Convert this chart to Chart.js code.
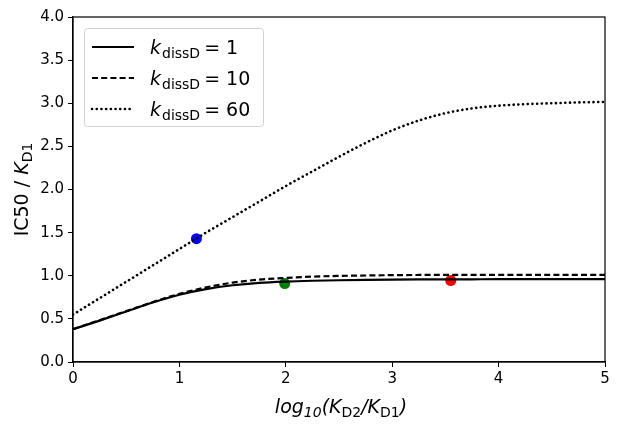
<!DOCTYPE html>
<html>
<head>
<meta charset="utf-8">
<script src="https://cdn.jsdelivr.net/npm/chart.js@4"></script>
<style>
  html, body { margin: 0; padding: 0; background: #fff; }
  #wrap { width: 622px; height: 427px; position: relative; }
</style>
</head>
<body>
<div id="wrap"><canvas id="chart"></canvas></div>
<script>
// x positions of the curves (log10 KD2/KD1)
let xVals = [0, 0.25, 0.5, 0.75, 1, 1.25, 1.5, 1.75, 2, 2.25, 2.5, 2.75, 3, 3.25, 3.5, 3.75, 4, 4.25, 4.5, 4.75, 5];
// kdissD = 1
let curve1 = [0.38, 0.48, 0.585, 0.69, 0.78, 0.845, 0.89, 0.918, 0.933, 0.942, 0.948, 0.952, 0.955, 0.957, 0.958, 0.959, 0.96, 0.96, 0.96, 0.96, 0.96];
// kdissD = 10
let curve10 = [0.38, 0.485, 0.59, 0.695, 0.79, 0.865, 0.92, 0.955, 0.975, 0.99, 0.998, 1.003, 1.007, 1.009, 1.01, 1.01, 1.01, 1.01, 1.01, 1.01, 1.01];
// kdissD = 60
let curve60 = [0.55, 0.74, 0.93, 1.12, 1.31, 1.50, 1.68, 1.86, 2.04, 2.21, 2.38, 2.54, 2.685, 2.80, 2.885, 2.94, 2.972, 2.99, 3.00, 3.01, 3.015];
// measured points
let ptX = [1.16, 1.99, 3.55];
let ptY = [1.43, 0.91, 0.945];
let ptColors = ["#0000ff", "#008000", "#ff0000"];
let legendValues = ["1", "10", "60"];
let xTicks = [0, 1, 2, 3, 4, 5];
let yTicks = [0, 0.5, 1, 1.5, 2, 2.5, 3, 3.5, 4];

let FONT = "'DejaVu Sans', sans-serif";
let DASH = [6, 3.2];
let DOT = [0.1, 4.6];

function toPts(xs, ys) {
    return xs.map((x, i) => ({x: x, y: ys[i]}));
}

// frame + legend + axis titles with subscripts
let decor = {
    id: "decor",
    afterDraw(chart) {
        let ctx = chart.ctx;
        let a = chart.chartArea;
        ctx.save();
        ctx.strokeStyle = "#000";
        ctx.lineWidth = 1.2;
        ctx.strokeRect(a.left, a.top, a.right - a.left, a.bottom - a.top);

        // legend box
        let lx = 84, ly = 28, lw = 179, lh = 98;
        ctx.fillStyle = "rgba(255,255,255,0.85)";
        ctx.strokeStyle = "#d0d0d0";
        ctx.lineWidth = 1;
        ctx.beginPath();
        ctx.roundRect(lx + 0.5, ly + 0.5, lw, lh, 3);
        ctx.fill();
        ctx.stroke();
        let dashes = [[], DASH, DOT];
        for (let i = 0; i < 3; i++) {
            let yy = ly + 19 + i * 31;
            ctx.strokeStyle = "#000";
            ctx.lineWidth = i == 2 ? 2.6 : 2.2;
            ctx.lineCap = i == 2 ? "round" : "butt";
            ctx.setLineDash(dashes[i]);
            ctx.beginPath();
            ctx.moveTo(92, yy);
            ctx.lineTo(134, yy);
            ctx.stroke();
            ctx.setLineDash([]);
            ctx.fillStyle = "#000";
            ctx.textBaseline = "alphabetic";
            ctx.textAlign = "left";
            let x = 150, base = yy + 7;
            ctx.font = "italic 19px " + FONT;
            ctx.fillText("k", x, base);
            x += ctx.measureText("k").width + 1;
            ctx.font = "14px " + FONT;
            ctx.fillText("dissD", x, base + 4);
            x += ctx.measureText("dissD").width + 4;
            ctx.font = "19px " + FONT;
            ctx.fillText("= " + legendValues[i], x, base);
        }

        // x title: log10(KD2/KD1)
        ctx.fillStyle = "#000";
        let parts = [
            ["italic 19px " + FONT, "log", 0],
            ["italic 14px " + FONT, "10", 4],
            ["italic 19px " + FONT, "(K", 0],
            ["14px " + FONT, "D2", 4],
            ["italic 19px " + FONT, "/K", 0],
            ["14px " + FONT, "D1", 4],
            ["italic 19px " + FONT, ")", 0]
        ];
        let total = 0;
        parts.forEach(p => { ctx.font = p[0]; total += ctx.measureText(p[1]).width; });
        let cx = (a.left + a.right) / 2 - total / 2 + 2;
        parts.forEach(p => {
            ctx.font = p[0];
            ctx.fillText(p[1], cx, 413 + p[2]);
            cx += ctx.measureText(p[1]).width;
        });

        // y title: IC50 / KD1
        ctx.translate(28, (a.top + a.bottom) / 2);
        ctx.rotate(-Math.PI / 2);
        let yparts = [
            ["19px " + FONT, "IC50 / ", 0],
            ["italic 19px " + FONT, "K", 0],
            ["14px " + FONT, "D1", 4]
        ];
        total = 0;
        yparts.forEach(p => { ctx.font = p[0]; total += ctx.measureText(p[1]).width; });
        cx = -total / 2;
        yparts.forEach(p => {
            ctx.font = p[0];
            ctx.fillText(p[1], cx, p[2]);
            cx += ctx.measureText(p[1]).width;
        });
        ctx.restore();
    }
};

let chart = new Chart(document.getElementById("chart"), {
    type: "scatter",
    data: {
        datasets: [
            {label: "kdissD = 1", type: "line", data: toPts(xVals, curve1), borderColor: "#000", borderWidth: 2.2, pointRadius: 0, cubicInterpolationMode: "monotone", fill: false},
            {label: "kdissD = 10", type: "line", data: toPts(xVals, curve10), borderColor: "#000", borderWidth: 2.2, borderDash: DASH, pointRadius: 0, cubicInterpolationMode: "monotone", fill: false},
            {label: "kdissD = 60", type: "line", data: toPts(xVals, curve60), borderColor: "#000", borderWidth: 2.6, borderDash: DOT, borderCapStyle: "round", pointRadius: 0, cubicInterpolationMode: "monotone", fill: false},
            {label: "points", data: toPts(ptX, ptY), backgroundColor: ptColors, borderColor: ptColors, pointRadius: 5.5, borderWidth: 0}
        ]
    },
    options: {
        responsive: true,
        maintainAspectRatio: false,
        animation: false,
        layout: {padding: {left: 0, right: 17, top: 17, bottom: 0}},
        plugins: {legend: {display: false}, tooltip: {enabled: false}},
        scales: {
            x: {
                type: "linear", min: 0, max: 5,
                afterBuildTicks: s => { s.ticks = xTicks.map(v => ({value: v})); },
                afterFit: s => { s.height = 65; },
                grid: {drawOnChartArea: false, drawTicks: true, tickLength: 5, color: "#000", tickWidth: 1},
                border: {display: true, color: "#000", width: 1.2},
                ticks: {color: "#000", font: {family: FONT, size: 15}, padding: 3, maxRotation: 0,
                        callback: v => String(v)}
            },
            y: {
                min: 0, max: 4,
                afterBuildTicks: s => { s.ticks = yTicks.map(v => ({value: v})); },
                afterFit: s => { s.width = 73; },
                grid: {drawOnChartArea: false, drawTicks: true, tickLength: 5, color: "#000", tickWidth: 1},
                border: {display: true, color: "#000", width: 1.2},
                ticks: {color: "#000", font: {family: FONT, size: 15}, padding: 4,
                        callback: v => v.toFixed(1)}
            }
        }
    },
    plugins: [decor]
});
</script>
</body>
</html>
